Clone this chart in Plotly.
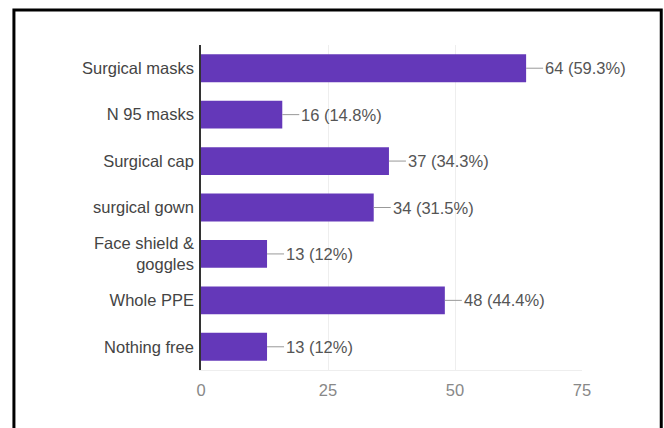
import plotly.graph_objects as go

categories = ["Surgical masks", "N 95 masks", "Surgical cap", "surgical gown",
              "Face shield &<br>goggles", "Whole PPE", "Nothing free"]
counts = [64, 16, 37, 34, 13, 48, 13]
percents = ["59.3%", "14.8%", "34.3%", "31.5%", "12%", "44.4%", "12%"]
x_ticks = [0, 25, 50, 75]

BAR = "#6438b9"
FONT = "Liberation Sans, Arial, sans-serif"

fig = go.Figure()
fig.add_trace(go.Bar(
    x=counts, y=categories, orientation="h",
    marker=dict(color=BAR, line=dict(width=0)),
    hoverinfo="skip",
))

annotations = []
for c, cat, p in zip(counts, categories, percents):
    annotations.append(dict(
        x=c, y=cat, xref="x", yref="y",
        text=f"{c} ({p})", showarrow=True, arrowhead=0, arrowwidth=1,
        arrowcolor="#999999", ax=17, ay=0, xanchor="left", standoff=0,
        startstandoff=0,
        font=dict(family=FONT, size=16.5, color="#555555"),
    ))

fig.update_layout(
    width=664, height=428,
    margin=dict(l=201, r=82, t=45, b=58),
    paper_bgcolor="white", plot_bgcolor="white",
    showlegend=False,
    bargap=0.4,
    font=dict(family=FONT, size=16.5, color="#444444"),
    annotations=annotations,
    shapes=[dict(type="rect", xref="paper", yref="paper",
                 x0=-0.491, x1=1.208, y0=-0.3, y1=1.108,
                 line=dict(color="black", width=3), fillcolor="rgba(0,0,0,0)",
                 layer="above")],
)
fig.update_xaxes(
    range=[0, 75], tickvals=x_ticks, ticktext=[str(t) for t in x_ticks],
    showgrid=True, gridcolor="#eeeeee", gridwidth=1,
    zeroline=False, showline=True, linecolor="#eeeeee", linewidth=1,
    ticks="outside", ticklen=5, tickcolor="rgba(0,0,0,0)",
    tickfont=dict(family=FONT, size=16.5, color="#888888"),
)
fig.update_yaxes(
    categoryorder="array", categoryarray=categories[::-1],
    showgrid=False, zeroline=False,
    showline=True, linecolor="#333333", linewidth=1.5,
    ticks="outside", ticklen=2, tickcolor="rgba(0,0,0,0)",
    tickfont=dict(family=FONT, size=16.5, color="#444444"),
)

fig.write_html("out.html", config={"displayModeBar": False},
               post_script="document.body.style.margin='0';document.body.style.overflow='hidden';")
